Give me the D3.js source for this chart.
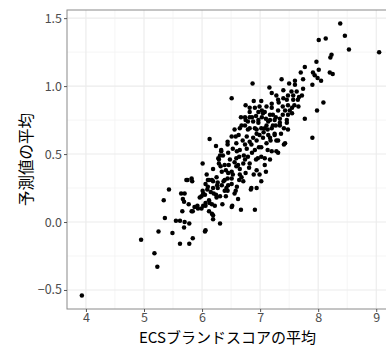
<!DOCTYPE html>
<html>
<head>
<meta charset="utf-8">
<script src="https://cdn.jsdelivr.net/npm/d3@7"></script>
<style>
  html, body { margin: 0; padding: 0; background: #fff; }
  svg { display: block; }
  text { font-family: "Noto Sans CJK JP", "Noto Sans", sans-serif; }
</style>
</head>
<body>
<svg id="chart" width="386" height="345"></svg>
<script>
// ---- data (ECSブランドスコアの平均, 予測値の平均) ----
const brandScore = [
3.93,4.95,5.18,5.23,5.25,5.49,5.62,5.78,5.84,6.05,5.36,5.34,5.43,5.55,5.62,5.70,5.78,5.69,5.66,5.64,
5.70,5.67,5.69,5.77,5.82,5.84,5.87,5.92,5.96,5.99,5.93,5.99,6.02,6.06,6.13,6.17,6.06,6.12,6.19,6.19,
6.31,6.06,6.35,6.22,5.73,5.83,6.06,6.10,6.19,6.26,6.27,6.15,6.24,6.31,6.42,6.45,6.39,6.12,6.12,6.02,
6.01,5.75,5.82,6.08,6.10,6.09,6.19,6.25,6.19,6.33,6.28,6.29,6.39,6.48,6.51,6.45,6.53,6.37,6.51,6.60,
6.39,6.64,6.59,6.56,6.05,6.64,6.67,6.13,6.24,6.33,6.36,6.29,6.44,6.51,6.56,6.65,6.68,6.75,6.82,6.82,
6.97,7.05,7.17,7.25,7.34,7.46,7.43,7.31,7.25,7.17,7.11,7.02,7.20,7.28,7.02,7.08,6.91,6.85,6.88,6.94,
7.02,7.11,6.97,6.88,6.79,6.77,6.74,6.79,6.82,6.71,6.65,6.59,6.65,6.53,6.45,6.59,6.94,7.02,6.85,6.71,
6.68,6.51,6.62,6.51,7.10,6.99,6.94,8.38,8.01,8.13,8.46,8.53,9.05,8.23,8.21,7.97,8.01,7.91,7.94,7.99,
8.05,8.20,8.25,7.77,7.70,7.74,7.90,6.87,7.37,7.50,7.60,7.60,7.74,7.16,7.20,7.28,7.40,7.54,7.57,7.40,
7.31,7.46,7.57,7.67,7.59,7.66,7.48,8.09,7.98,7.77,7.90,6.89,7.02,6.91,6.99,7.11,7.20,7.31,7.43,7.48,
7.46,7.48,7.34,7.22,7.08,6.74,6.97,7.14,7.22,7.34,7.08,6.94,6.82,7.25,7.14,6.51,7.41,6.91,6.67,6.52,
6.84,7.28,7.31,6.74,6.79,6.86,6.93,7.03,7.10,7.17,7.27,7.39,7.51,7.55,7.13,7.20,7.27,7.41,6.99,7.05,
6.94,6.82,6.77,6.86,6.93,6.74,6.62,6.56,6.46,6.41,6.34,6.17,6.27,6.34,6.44,6.41,6.20,6.01,6.75,6.82,
7.03,7.20,7.39,7.55,7.65,7.72,7.63,7.48,7.32,6.91,7.06,7.18,7.36,6.70,6.63,6.60,6.72,6.98,7.13,7.17,
6.81,6.75,6.65,6.44,6.32,6.31,6.44,6.58,6.96,7.08,6.89,6.58,6.25,6.17
];
const predicted = [
-0.54,-0.13,-0.23,-0.33,-0.07,-0.08,-0.16,-0.16,-0.12,-0.07,0.03,0.16,0.24,0.01,0.01,0.00,-0.01,-0.04,0.08,0.21,
0.21,0.17,0.15,0.13,0.08,0.08,0.11,0.12,0.18,0.19,0.10,0.10,0.12,0.14,0.14,0.13,0.12,0.08,0.05,0.02,
-0.01,-0.06,0.13,0.12,0.31,0.30,0.28,0.26,0.30,0.27,0.25,0.22,0.20,0.19,0.25,0.27,0.31,0.31,0.16,0.21,
0.43,0.31,0.32,0.35,0.31,0.24,0.25,0.33,0.39,0.52,0.47,0.43,0.42,0.46,0.37,0.36,0.35,0.30,0.28,0.26,
0.23,0.48,0.41,0.21,0.20,0.31,0.77,0.61,0.56,0.53,0.49,0.46,0.59,0.63,0.68,0.69,0.71,0.75,0.77,0.81,
0.81,0.80,0.79,0.75,0.73,0.73,0.58,0.60,0.64,0.62,0.58,0.55,0.52,0.52,0.48,0.47,0.53,0.57,0.62,0.65,
0.69,0.71,0.73,0.74,0.68,0.63,0.57,0.48,0.43,0.43,0.39,0.47,0.53,0.54,0.51,0.58,0.38,0.30,0.25,0.30,
0.33,0.32,0.17,0.11,0.37,0.35,0.25,1.46,1.34,1.35,1.37,1.27,1.25,1.23,1.21,1.18,1.12,1.10,1.08,1.06,
1.04,1.10,1.09,1.14,1.10,1.05,1.01,1.02,1.05,1.02,1.04,1.01,0.98,0.99,0.95,0.93,0.97,0.96,0.93,0.91,
0.90,0.90,0.90,0.92,0.86,0.85,0.86,0.88,0.82,0.76,0.62,0.89,0.89,0.84,0.85,0.85,0.84,0.82,0.82,0.79,
0.75,0.68,0.76,0.79,0.81,0.77,0.75,0.74,0.71,0.71,0.69,0.68,0.69,0.65,0.64,0.91,0.57,0.09,0.09,0.12,
0.24,0.60,0.51,0.71,0.74,0.77,0.78,0.77,0.76,0.75,0.77,0.79,0.82,0.80,0.68,0.69,0.71,0.69,0.64,0.62,
0.60,0.59,0.54,0.51,0.46,0.46,0.42,0.44,0.42,0.38,0.37,0.31,0.29,0.27,0.23,0.19,0.21,0.23,0.86,0.84,
0.82,0.87,0.85,0.84,0.90,0.93,0.96,0.93,0.88,0.69,0.66,0.60,0.65,0.60,0.64,0.52,0.49,0.55,0.53,0.46,
0.40,0.36,0.35,0.32,0.41,0.49,0.57,0.63,0.47,0.42,0.35,0.23,0.18,0.06
];
const xTicks = [4, 5, 6, 7, 8, 9];
const yTicks = [-0.5, 0.0, 0.5, 1.0, 1.5];
const xTitle = "ECSブランドスコアの平均";
const yTitle = "予測値の平均";

// ---- layout ----
const svg = d3.select("#chart");
const W = 386, H = 345;
const panel = { left: 67, top: 10, right: 394, bottom: 309 };

const points = brandScore.map((v, i) => ({ x: v, y: predicted[i] }));

function expand(ext, f) { const d = (ext[1] - ext[0]) * f; return [ext[0] - d, ext[1] + d]; }
const x = d3.scaleLinear().domain(expand(d3.extent(brandScore), 0.05)).range([panel.left, panel.right]);
const y = d3.scaleLinear().domain(expand(d3.extent(predicted), 0.05)).range([panel.bottom, panel.top]);

svg.append("rect").attr("width", W).attr("height", H).attr("fill", "#fff");

const g = svg.append("g");
// minor grid
const xMinor = xTicks.map(t => t - 0.5).concat([xTicks[xTicks.length - 1] + 0.5]);
const yMinor = yTicks.slice(0, -1).map(t => t + 0.25).concat([yTicks[0] - 0.25]);
g.selectAll(".xminor").data(xMinor.filter(v => x(v) > panel.left && x(v) < panel.right)).join("line")
  .attr("x1", d => x(d)).attr("x2", d => x(d)).attr("y1", panel.top).attr("y2", panel.bottom)
  .attr("stroke", "#f2f2f2").attr("stroke-width", 0.8);
g.selectAll(".yminor").data(yMinor.filter(v => y(v) > panel.top && y(v) < panel.bottom)).join("line")
  .attr("y1", d => y(d)).attr("y2", d => y(d)).attr("x1", panel.left).attr("x2", panel.right)
  .attr("stroke", "#f2f2f2").attr("stroke-width", 0.8);
// major grid
g.selectAll(".xmajor").data(xTicks).join("line")
  .attr("x1", d => x(d)).attr("x2", d => x(d)).attr("y1", panel.top).attr("y2", panel.bottom)
  .attr("stroke", "#ebebeb").attr("stroke-width", 1.1);
g.selectAll(".ymajor").data(yTicks).join("line")
  .attr("y1", d => y(d)).attr("y2", d => y(d)).attr("x1", panel.left).attr("x2", panel.right)
  .attr("stroke", "#ebebeb").attr("stroke-width", 1.1);

// points
svg.append("g").selectAll("circle").data(points).join("circle")
  .attr("cx", d => x(d.x)).attr("cy", d => y(d.y)).attr("r", 2.25).attr("fill", "#000");

// panel border
svg.append("rect")
  .attr("x", panel.left).attr("y", panel.top)
  .attr("width", panel.right - panel.left).attr("height", panel.bottom - panel.top)
  .attr("fill", "none").attr("stroke", "#8a8a8a").attr("stroke-width", 1);

// axes
const xAxis = d3.axisBottom(x).tickValues(xTicks).tickFormat(d3.format("d")).tickSize(3).tickPadding(1);
const yAxis = d3.axisLeft(y).tickValues(yTicks).tickFormat(d3.format(".1f")).tickSize(3).tickPadding(2);

const gx = svg.append("g").attr("transform", `translate(0,${panel.bottom})`).call(xAxis);
const gy = svg.append("g").attr("transform", `translate(${panel.left},0)`).call(yAxis);
[gx, gy].forEach(a => {
  a.select(".domain").remove();
  a.selectAll(".tick line").attr("stroke", "#555");
  a.selectAll(".tick text").attr("fill", "#4d4d4d").style("font-size", "12.5px")
    .style("font-family", '"Noto Sans CJK JP", "Noto Sans", sans-serif');
});

// titles
svg.append("text")
  .attr("x", (panel.left + 386) / 2 + 1).attr("y", 342.5)
  .attr("text-anchor", "middle").attr("fill", "#000").style("font-size", "15px")
  .text(xTitle);
svg.append("text")
  .attr("transform", `translate(25,${(panel.top + panel.bottom) / 2}) rotate(-90)`)
  .attr("text-anchor", "middle").attr("dominant-baseline", "central")
  .attr("fill", "#000").style("font-size", "15.5px")
  .text(yTitle);
</script>
</body>
</html>
